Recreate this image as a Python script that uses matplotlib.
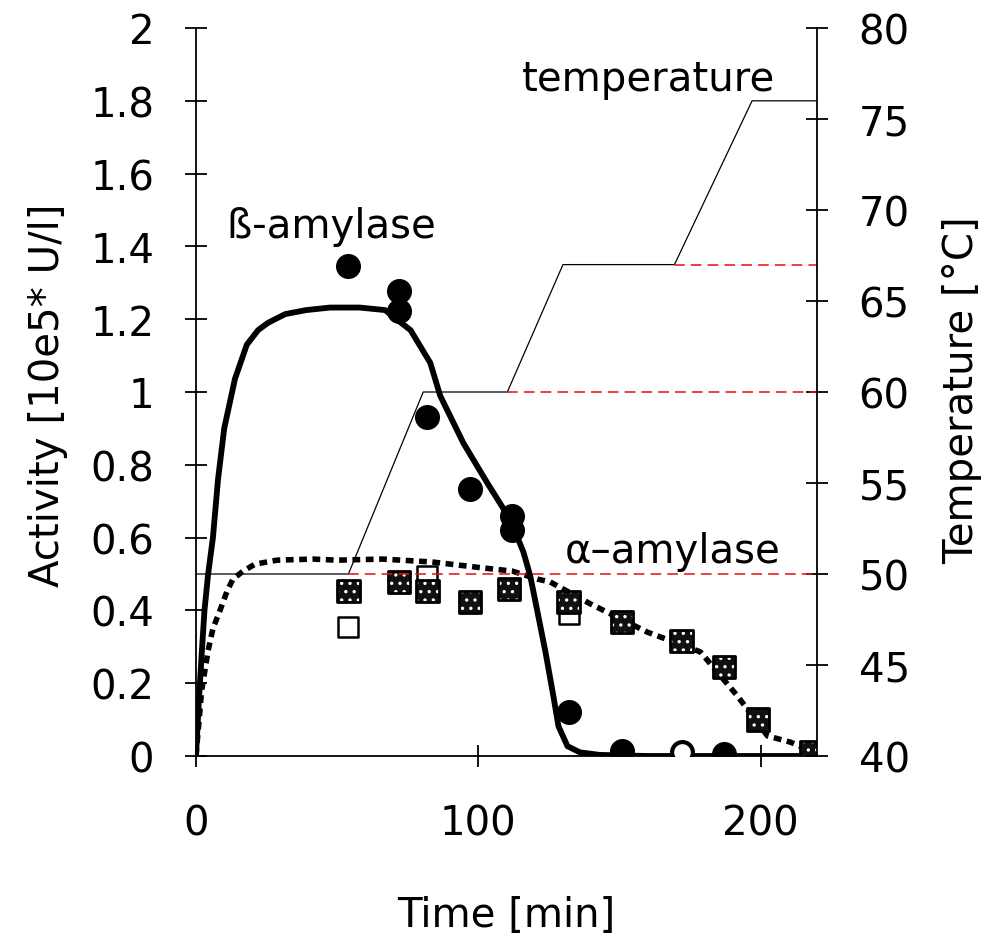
import matplotlib
matplotlib.use("Agg")
import matplotlib.pyplot as plt

plt.rcParams['font.family'] = ['DejaVu Sans']
plt.rcParams['hatch.color'] = 'white'
plt.rcParams['hatch.linewidth'] = 1.2

# ---- data ----
# beta-amylase measured activity [10e5 U/l]
beta_t = [54, 72, 72, 82, 97, 112, 112, 132, 151, 187]
beta_y = [1.346, 1.277, 1.222, 0.93, 0.733, 0.66, 0.62, 0.12, 0.014, 0.005]
beta_open_t = [172]
beta_open_y = [0.01]
# beta-amylase model curve
beta_fit_t = [0, 1, 2.1, 3, 4.3, 6, 7.8, 10, 13.8, 18, 22, 25.5, 31.6, 39, 47.5, 58, 67,
              71, 76, 83, 86.5, 94.7, 103.2, 111.3, 116, 118.4, 121, 123.8, 126.6, 128.4,
              131.6, 136, 143, 160, 220]
beta_fit_y = [0, 0.15, 0.29, 0.40, 0.5, 0.6, 0.76, 0.9, 1.036, 1.13, 1.17, 1.19, 1.214,
              1.225, 1.232, 1.232, 1.225, 1.2, 1.17, 1.08, 0.99, 0.86, 0.75, 0.65, 0.56,
              0.495, 0.395, 0.286, 0.165, 0.082, 0.027, 0.01, 0.003, 0.0, 0.0]
# alpha-amylase measured activity
alpha_t = [54, 72, 82, 97, 111, 132, 151, 172, 187, 199, 218]
alpha_y = [0.453, 0.478, 0.453, 0.423, 0.459, 0.423, 0.368, 0.316, 0.244, 0.10, 0.01]
alpha_open_t = [54, 82, 132]
alpha_open_y = [0.354, 0.495, 0.39]
# alpha-amylase model curve
alpha_fit_t = [0, 2, 4.3, 6, 8.5, 11, 13.1, 16.7, 20.9, 28.7, 41.5, 50, 66, 83.7, 99, 112,
               121, 125.5, 139.7, 160, 178.7, 191.8, 202.5, 210.6, 214, 220]
alpha_fit_y = [0, 0.18, 0.29, 0.35, 0.40, 0.453, 0.486, 0.508, 0.527, 0.538, 0.541, 0.538,
               0.541, 0.533, 0.519, 0.508, 0.486, 0.478, 0.418, 0.34, 0.286, 0.165, 0.055,
               0.038, 0.027, 0.01]
# temperature programme [°C]
temp_t = [0, 54, 80.5, 110.3, 130, 169.5, 197, 220]
temp_c = [50, 50, 60, 60, 67, 67, 76, 76]
# reference levels (red dashed)
rest_levels = [50, 60, 67]
rest_start = [54, 110.3, 169.5]

x_ticks = [0, 100, 200]
y_ticks = [0, 0.2, 0.4, 0.6, 0.8, 1, 1.2, 1.4, 1.6, 1.8, 2]
y_ticklabels = ['0', '0.2', '0.4', '0.6', '0.8', '1', '1.2', '1.4', '1.6', '1.8', '2']
t_ticks = [40, 45, 50, 55, 60, 65, 70, 75, 80]

FS = 29

fig = plt.figure(figsize=(9.94, 9.37), dpi=100)
W, H = 994, 937
ax = fig.add_axes([196 / W, 1 - 757 / H, (817 - 196) / W, (757 - 29) / H])
ax2 = ax.twinx()

ax.set_xlim(0, 220)
ax.set_ylim(0, 2)
ax2.set_ylim(40, 80)

# temperature programme and rest levels
ax2.plot(temp_t, temp_c, color='black', lw=0.9, zorder=2)
ax2.hlines(rest_levels, rest_start, 220, colors='#e01010', lw=1.1,
           linestyles=(0, (7, 4)), zorder=2)

# model curves
ax.plot(beta_fit_t, beta_fit_y, color='black', lw=4.2, solid_capstyle='round', zorder=3)
ax.plot(alpha_fit_t, alpha_fit_y, color='black', lw=4.0, dashes=(1.4, 1.0),
        dash_capstyle='butt', zorder=3)

# measured points
ax.scatter(beta_t, beta_y, s=17 ** 2, marker='o', color='black', zorder=5)
ax.scatter(beta_open_t, beta_open_y, s=15 ** 2, marker='o', facecolor='white',
           edgecolor='black', linewidths=3, zorder=5)
ax.scatter(alpha_open_t, alpha_open_y, s=15 ** 2, marker='s', facecolor='white',
           edgecolor='black', linewidths=1.8, zorder=4)
ax.scatter(alpha_t, alpha_y, s=16 ** 2, marker='s', facecolor='#111111', hatch='..',
           edgecolor='white', linewidths=0, zorder=5)
ax.scatter(alpha_t, alpha_y, s=16 ** 2, marker='s', facecolor='none',
           edgecolor='black', linewidths=2.0, zorder=6)

# annotations
ax.text(160.3, 1.86, 'temperature', fontsize=FS, ha='center', va='center')
ax.text(47.9, 1.455, 'ß-amylase', fontsize=FS, ha='center', va='center')
ax.text(169, 0.563, 'α–amylase', fontsize=FS, ha='center', va='center')

# axes styling
for s in ['top', 'right']:
    ax.spines[s].set_visible(False)
for s in ['top', 'left', 'bottom']:
    ax2.spines[s].set_visible(False)
for sp in [ax.spines['left'], ax.spines['bottom'], ax2.spines['right']]:
    sp.set_linewidth(1.3)

ax.set_xticks(x_ticks)
ax.set_xticklabels([str(v) for v in x_ticks])
ax.set_yticks(y_ticks)
ax.set_yticklabels(y_ticklabels)
ax2.set_yticks(t_ticks)
ax2.set_yticklabels([str(v) for v in t_ticks])

ax.tick_params(axis='y', direction='inout', length=16, width=1.3, labelsize=FS, pad=22)
ax.tick_params(axis='x', direction='inout', length=16, width=1.3, labelsize=FS, pad=26)
ax2.tick_params(axis='y', direction='inout', length=16, width=1.3, labelsize=FS, pad=22)

fig.text(48 / W, 1 - 395 / H, 'Activity [10e5* U/l]', rotation=90, fontsize=FS,
         ha='center', va='center')
fig.text(962 / W, 1 - 390 / H, 'Temperature [°C]', rotation=90, fontsize=FS,
         ha='center', va='center')
fig.text(506 / W, 1 - 927 / H, 'Time [min]', fontsize=FS, ha='center', va='baseline')

fig.savefig('out.png', dpi=100)
